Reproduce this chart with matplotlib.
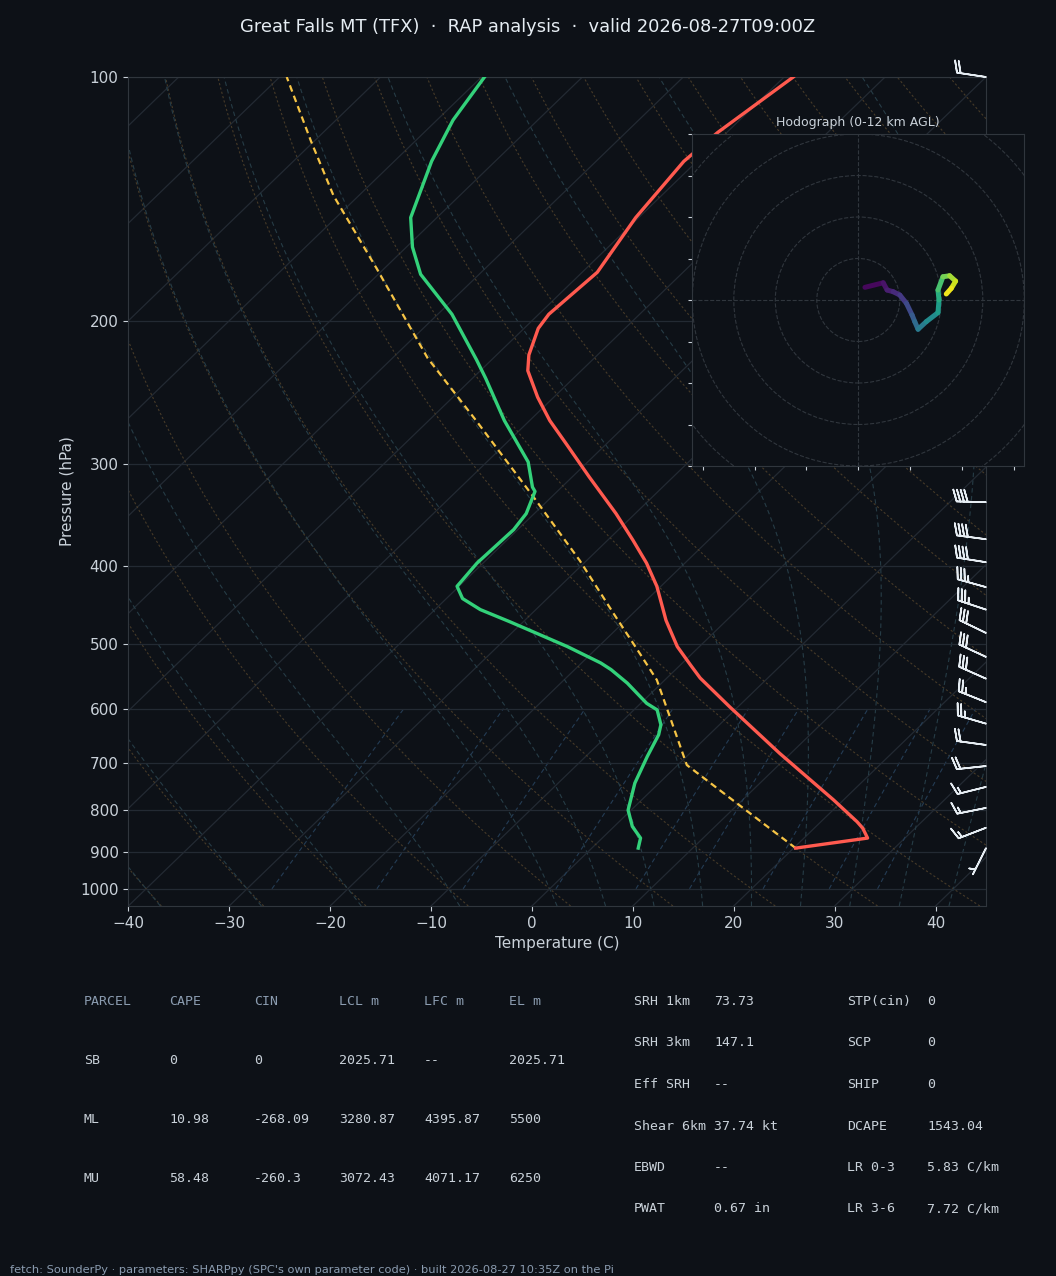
import numpy as np
import matplotlib
matplotlib.use("Agg")
import matplotlib.pyplot as plt
from matplotlib.transforms import Affine2D
from matplotlib.collections import LineCollection
from matplotlib.patches import Circle
from matplotlib.ticker import FixedLocator, FixedFormatter, NullLocator

BG = "#0d1117"
EDGE = "#30363d"
FAINT = "#232a33"
FG = "#c9d1d9"
MUTED = "#8b9cb0"

# environment temperature (hPa, C)
temp_p = [891, 866, 842, 827, 777, 681, 597, 550, 530, 503, 467, 424, 397, 372, 345,
          311, 283, 265, 248, 230, 220, 204, 196, 174, 149, 127, 117, 100]
temp_c = [20.2, 26.3, 24.8, 23.6, 19.0, 8.9, -0.8, -6.7, -9.0, -12.2, -16.0, -20.4,
          -23.8, -27.5, -31.9, -38.3, -44.0, -48.0, -51.6, -55.3, -56.8, -58.6, -59.0,
          -58.5, -60.3, -61.3, -60.9, -59.1]

# dewpoint
dewp_p = [891, 866, 838, 800, 741, 687, 646, 628, 602, 591, 558, 537, 527, 503,
          469, 453, 439, 424, 397, 361, 345, 324, 320, 298, 265, 235, 223, 196, 175,
          162, 149, 127, 113, 100]
dewp_c = [4.6, 3.8, 1.8, -0.3, -2.4, -3.9, -5.0, -5.8, -7.7, -9.4, -13.4, -16.4,
          -18.1, -23.1, -31.3, -35.5, -38.4, -40.2, -40.6, -40.4, -40.8, -42.2, -42.9,
          -45.9, -52.5, -58.7, -61.5, -68.6, -75.8, -79.4, -82.6, -86.3, -88.4, -89.7]

# surface parcel path
parcel_p = [891, 704, 608, 553, 513, 458, 394, 329, 265, 222, 172, 140, 120, 100]
parcel_c = [20.2, 0.9, -6.2, -10.8, -15.2, -21.9, -30.7, -41.8, -55.3, -66.5, -80.8,
            -92.5, -100.3, -109.3]

# wind barbs (kt)
barb_p = [891, 841, 795, 749, 706, 665, 626, 589, 551, 518, 484, 453, 425, 396, 371, 334, 100]
barb_u = [3, 13, 15, 16, 19, 22, 24, 25, 27, 28, 29, 33, 36, 38, 38, 39, 20]
barb_v = [6, 5, 3, 4, 2, -3, -7, -10, -12, -13, -14, -11, -10, -6, -5, -1, -3]

# hodograph 0-12 km (km AGL, kt)
hodo_km = [0.0, 0.5, 0.8, 1.2, 1.7, 2.3, 3.0, 3.8, 4.6, 5.3, 6.2, 7.0, 8.0, 9.0,
           10.0, 10.8, 11.4, 12.0]
hodo_u = [3.2, 12.0, 13.9, 16.8, 20.0, 23.2, 25.9, 27.2, 28.8, 32.8, 38.4, 38.9, 38.4,
          40.8, 44.0, 46.9, 44.8, 42.4]
hodo_v = [6.1, 8.3, 4.8, 4.0, 2.4, -1.6, -7.2, -10.4, -14.1, -10.4, -6.1, 0.0, 4.8,
          11.2, 11.7, 9.1, 5.6, 2.9]

p_ticks = [100, 200, 300, 400, 500, 600, 700, 800, 900, 1000]

# parcel table
parcel_head = ["PARCEL", "CAPE", "CIN", "LCL m", "LFC m", "EL m"]
parcel_rows = [["SB", "0", "0", "2025.71", "--", "2025.71"],
               ["ML", "10.98", "-268.09", "3280.87", "4395.87", "5500"],
               ["MU", "58.48", "-260.3", "3072.43", "4071.17", "6250"]]
kin_names = ["SRH 1km", "SRH 3km", "Eff SRH", "Shear 6km", "EBWD", "PWAT"]
kin_vals = ["73.73", "147.1", "--", "37.74 kt", "--", "0.67 in"]
idx_names = ["STP(cin)", "SCP", "SHIP", "DCAPE", "LR 0-3", "LR 3-6"]
idx_vals = ["0", "0", "0", "1543.04", "5.83 C/km", "7.72 C/km"]


def moist_lapse(t0c, pres):
    Rd, Cp, Lv, eps = 287.04, 1005.7, 2.501e6, 0.622

    def slope(p, T):
        es = 6.112 * np.exp(17.67 * (T - 273.15) / (T - 29.65))
        rs = eps * es / (p - es)
        return (Rd * T + Lv * rs) / (Cp + Lv * Lv * rs * eps / (Rd * T * T)) / p

    T = np.asarray(t0c, float) + 273.15
    out = [T.copy()]
    for i in range(len(pres) - 1):
        p, h = pres[i], pres[i + 1] - pres[i]
        k1 = slope(p, T)
        k2 = slope(p + h / 2, T + h * k1 / 2)
        k3 = slope(p + h / 2, T + h * k2 / 2)
        k4 = slope(p + h, T + h * k3)
        T = T + h * (k1 + 2 * k2 + 2 * k3 + k4) / 6
        out.append(T.copy())
    return np.array(out) - 273.15


W, H = 1056, 1276
fig = plt.figure(figsize=(W / 100, H / 100), dpi=100, facecolor=BG)
ax = fig.add_axes([128.3 / W, 370 / H, 857.7 / W, 829 / H], facecolor=BG)
ax.set_yscale("log")
ax.set_xlim(-40, 45)
ax.set_ylim(1050, 100)
skew = ax.transScale + ax.transLimits + Affine2D().skew_deg(45, 0) + ax.transAxes

# background lines
for t in range(-130, 50, 10):
    ax.plot([t, t], [1050, 100], transform=skew, color=FAINT, lw=0.9, zorder=1)

pp = np.geomspace(1050, 100, 80)
for th in range(-40, 210, 10):
    ax.plot((th + 273.15) * (pp / 1000.0) ** 0.2857 - 273.15, pp, transform=skew,
            color="#463a28", lw=0.8, ls=(0, (2, 2)), zorder=1)

t0s = np.concatenate((np.arange(-40, 0, 10), np.arange(0, 46, 5)))
p_up = np.arange(1000, 99, -2.0)
p_dn = np.arange(1000, 1051, 2.0)
m_up = moist_lapse(t0s, p_up)
m_dn = moist_lapse(t0s, p_dn)
for k in range(len(t0s)):
    ax.plot(np.concatenate((m_dn[::-1, k], m_up[1:, k])),
            np.concatenate((p_dn[::-1], p_up[1:])), transform=skew,
            color="#263c46", lw=0.8, ls=(0, (4, 3)), zorder=1)

pm = np.linspace(1000, 600, 30)
for w in [0.4, 1, 2, 4, 7, 10, 16, 24, 32]:
    e = pm * (w / 1000) / (0.622 + w / 1000)
    lg = np.log(e / 6.112)
    ax.plot(243.5 * lg / (17.67 - lg), pm, transform=skew,
            color="#243c54", lw=0.8, ls=(0, (4, 3)), zorder=1)

ax.plot(temp_c, temp_p, transform=skew, color="#ff5a4f", lw=2.4, zorder=5)
ax.plot(dewp_c, dewp_p, transform=skew, color="#33d17a", lw=2.4, zorder=5)
ax.plot(parcel_c, parcel_p, transform=skew, color="#f6c445", lw=1.6,
        ls=(0, (3, 2)), zorder=4)

ax.barbs(np.ones(len(barb_p)), barb_p, barb_u, barb_v,
         transform=ax.get_yaxis_transform(), clip_on=False, length=6.5,
         color="#e6edf3", lw=1.2, zorder=6)

ax.yaxis.set_major_locator(FixedLocator(p_ticks))
ax.yaxis.set_major_formatter(FixedFormatter([str(p) for p in p_ticks]))
ax.yaxis.set_minor_locator(NullLocator())
ax.set_xticks(range(-40, 41, 10))
ax.grid(axis="y", color=FAINT, lw=0.9)
ax.tick_params(colors=FG, labelsize=11)
for s in ax.spines.values():
    s.set_color(EDGE)
ax.set_xlabel("Temperature (C)", color=FG, fontsize=11)
ax.set_ylabel("Pressure (hPa)", color=FG, fontsize=11)

# hodograph inset
hax = fig.add_axes([692.3 / W, (H - 466) / H, 332 / W, 332 / H], facecolor=BG)
hax.set_xlim(-80, 80)
hax.set_ylim(-80, 80)
for r in range(20, 121, 20):
    hax.add_patch(Circle((0, 0), r, fill=False, ls="--", lw=0.8, color=EDGE))
hax.axhline(0, color=EDGE, ls="--", lw=0.8)
hax.axvline(0, color=EDGE, ls="--", lw=0.8)
pts = np.column_stack([hodo_u, hodo_v])
segs = np.stack([pts[:-1], pts[1:]], axis=1)
mid = (np.array(hodo_km[:-1]) + np.array(hodo_km[1:])) / 2
lc = LineCollection(segs, cmap="viridis", lw=3.6, capstyle="round", zorder=3)
lc.set_array(mid)
lc.set_clim(0, 12)
hax.add_collection(lc)
hax.set_xticks([-75, -50, -25, 0, 25, 50, 75])
hax.set_yticks(range(-80, 81, 20))
hax.tick_params(colors=FG, length=3, labelbottom=False, labelleft=False)
for s in hax.spines.values():
    s.set_color(EDGE)
hax.set_title("Hodograph (0-12 km AGL)", color=FG, fontsize=9, pad=6)

# header, tables, footer
fig.text(0.5, 1 - 27 / H, "Great Falls MT (TFX)  \u00b7  RAP analysis  \u00b7  valid 2026-08-27T09:00Z",
         ha="center", va="center", color="#e6edf3", fontsize=12.9)

mono = dict(family="DejaVu Sans Mono", fontsize=9.5, va="baseline")
cols = [84, 169, 254, 339, 424, 509]
for j, name in enumerate(parcel_head):
    fig.text(cols[j] / W, 1 - 1005 / H, name, color=MUTED, **mono)
for i, row in enumerate(parcel_rows):
    for j, val in enumerate(row):
        fig.text(cols[j] / W, 1 - (1064 + 58.8 * i) / H, val, color=FG, **mono)
for i in range(6):
    yb = 1 - (1005 + 41.5 * i) / H
    fig.text(634 / W, yb, kin_names[i], color=FG, **mono)
    fig.text(714 / W, yb, kin_vals[i], color=FG, **mono)
    fig.text(847 / W, yb, idx_names[i], color=FG, **mono)
    fig.text(927 / W, yb, idx_vals[i], color=FG, **mono)

fig.text(10 / W, 1 - 1273 / H,
         "fetch: SounderPy \u00b7 parameters: SHARPpy (SPC's own parameter code) \u00b7 built 2026-08-27 10:35Z on the Pi",
         color=MUTED, fontsize=8.2, va="baseline")

fig.savefig("out.png", dpi=100, facecolor=BG)
